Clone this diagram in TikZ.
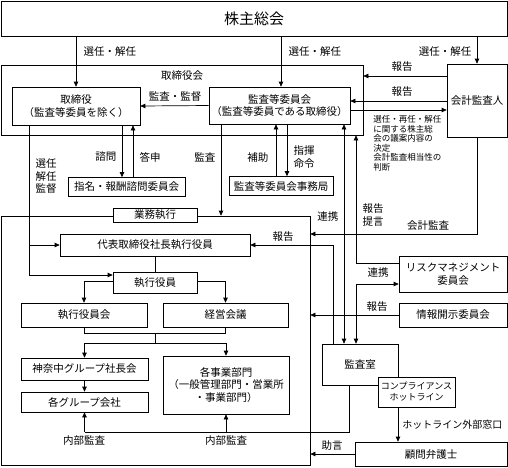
\documentclass[tikz,border=0pt]{standalone}
\usepackage{fontspec}
\setmainfont{Noto Sans CJK JP}
\usetikzlibrary{arrows.meta}

\begin{document}
\begin{tikzpicture}[x=1pt,y=-1pt,line width=0.7pt,
  font=\fontsize{10.5}{12.5}\selectfont,
  box/.style={draw,inner sep=0pt,align=center},
  wbox/.style={box,fill=white},
  arr/.style={-{Triangle[length=5pt,width=4.5pt]}},
  arrs/.style={{Triangle[length=5pt,width=4.5pt]}-{Triangle[length=5pt,width=4.5pt]}},
  note/.style={font=\fontsize{8.5}{9.6}\selectfont,align=left,inner sep=0pt}]
\useasboundingbox (0,0) rectangle (508,467);
		% frames
		\node[box,minimum width=362pt,minimum height=70pt] (board) at (182,100) {};
		\node (boardlbl) at (182,76) {取締役会};
		\node[box,minimum width=309pt,minimum height=249pt] (execframe) at (155.5,340.5) {};
		\node[wbox,minimum width=84pt,minimum height=14pt] (execlbl) at (155,215) {業務執行};
		% top
		\node[box,minimum width=506pt,minimum height=35pt,font=\fontsize{15}{17}\selectfont] (shareholders) at (254,18.5) {株主総会};
		\node[box,minimum width=128pt,minimum height=38pt] (directors) at (76,106) {取締役\\（監査等委員を除く）};
		\node[box,minimum width=141pt,minimum height=37pt] (acbm) at (279.5,105.5) {監査等委員会\\（監査等委員である取締役）};
		\node[box,minimum width=60pt,minimum height=73pt] (auditor) at (477,100.5) {会計監査人};
		\node[box,minimum width=117pt,minimum height=19pt] (nomination) at (126.5,187) {指名・報酬諮問委員会};
		\node[box,minimum width=104pt,minimum height=19pt] (office) at (281,186) {監査等委員会事務局};
		% execution side
		\node[box,minimum width=190pt,minimum height=22pt] (president) at (155,245) {代表取締役社長執行役員};
		\node[box,minimum width=84pt,minimum height=21pt] (officers) at (155,282.5) {執行役員};
		\node[box,minimum width=126pt,minimum height=24pt] (officersmtg) at (84,315) {執行役員会};
		\node[box,minimum width=125pt,minimum height=24pt] (mgmt) at (225.5,315) {経営会議};
		\node[box,minimum width=127pt,minimum height=22pt] (grouppres) at (84.5,369) {神奈中グループ社長会};
		\node[box,minimum width=127pt,minimum height=20pt] (groupco) at (84.5,402) {各グループ会社};
		\node[box,minimum width=126pt,minimum height=58pt] (divisions) at (226,385) {各事業部門\\（一般管理部門・営業所\\・事業部門）};
		% right side
		\node[box,minimum width=108pt,minimum height=36pt] (risk) at (453,274) {リスクマネジメント\\委員会};
		\node[box,minimum width=108pt,minimum height=24pt] (disclosure) at (453,315) {情報開示委員会};
		\node[box,minimum width=76pt,minimum height=41pt] (auditroom) at (360,364.5) {監査室};
		\node[wbox,minimum width=77pt,minimum height=30pt,font=\fontsize{9}{11}\selectfont] (hotline) at (416.5,392) {コンプライアンス\\ホットライン};
		\node[box,minimum width=152pt,minimum height=24pt] (lawyer) at (431,454) {顧問弁護士};
		% shareholders
		\draw[arr] (shareholders.south -| directors) -- (directors.north);
		\node[anchor=west] (l1) at (80,52) {選任・解任};
		\draw[arr] (shareholders.south -| 281,0) -- (acbm.north -| 281,0);
		\node[anchor=west] (l2) at (285,52) {選任・解任};
		\draw[arr] (shareholders.south -| auditor) -- (auditor.north);
		\node[anchor=east] (l3) at (475,52) {選任・解任};
		% board
		\draw[arr] (acbm.west) -- (directors.east);
		\node (l4) at (175,97) {監査・監督};
		\draw[arr] (auditor.west |- 0,76) -- (board.east |- 0,76);
		\node (l5) at (402,67) {報告};
		\draw[arr] (auditor.west |- 0,101) -- (acbm.east |- 0,101);
		\node (l6) at (402,92) {報告};
		\draw[arr] (acbm.east |- 0,110) -- (auditor.west |- 0,110);
		\node[note,anchor=north west] (l7) at (373,115) {選任・再任・解任\\に関する株主総\\会の議案内容の\\決定\\会計監査相当性の\\判断};
		\draw[arr] (directors.south -| 122,0) -- (nomination.north -| 122,0);
		\node[anchor=east] (l8) at (120,157) {諮問};
		\draw[arr] (nomination.north -| 133,0) -- (directors.south -| 133,0);
		\node[anchor=west] (l9) at (136,157) {答申};
		\draw[arr] (acbm.south -| 221,0) -- (execframe.north -| 221,0);
		\node[anchor=east] (l10) at (219,157) {監査};
		\draw[arr] (office.north -| 276,0) -- (acbm.south -| 276,0);
		\node[anchor=east] (l11) at (272,158) {補助};
		\draw[arr] (acbm.south -| 287,0) -- (office.north -| 287,0);
		\node[anchor=west,align=left] (l12) at (290,157) {指揮\\命令};
		% audit links
		\draw[arrs] (acbm.south -| 344,0) -- (auditroom.north -| 344,0);
		\node[anchor=east] (l13) at (342,217) {連携};
		\draw[arr] (risk.west |- 0,263) -| (board.south -| 356,0);
		\node[anchor=west,align=left] (l14) at (359,215) {報告\\提言};
		\draw[arrs] (auditroom.north -| 356,0) |- (risk.west |- 0,284);
		\node (l15) at (378,273) {連携};
		\draw[arr] (auditor.south) |- (execframe.east |- 0,234);
		\node (l16) at (428,226) {会計監査};
		\draw[arr] (auditroom.north -| 333,0) |- (president.east);
		\node (l17) at (283,237) {報告};
		\draw[arr] (disclosure.west) -- (execframe.east |- disclosure);
		\node (l18) at (377,307) {報告};
		\draw[arr] (lawyer.west) -- (execframe.east |- lawyer);
		\node (l19) at (332,446) {助言};
		\draw[arr] (hotline.south -| 398,0) -- (lawyer.north -| 398,0);
		\node[anchor=west,inner sep=1pt,font=\fontsize{10}{12}\selectfont] (l20) at (401,425) {ホットライン外部窓口};
		% execution
		\coordinate (split) at (29,245);
		\draw[arr] (directors.south -| split) |- (officers.west |- 0,275);
		\draw[arr] (split) -- (president.west);
		\node[anchor=north west,align=left] (l21) at (32,155) {選任\\解任\\監督};
		\draw (president) -- (officers);
		\draw[arr] (officers.west |- 0,281) -| (officersmtg.north);
		\draw[arr] (officers.east |- 0,281) -| (mgmt.north);
		\coordinate (join) at (155,333);
		\coordinate (fork) at (155,343);
		\draw (officersmtg.south) |- (join) -| (mgmt.south);
		\draw (join) -- (fork);
		\draw[arr] (fork) -| (grouppres.north);
		\draw[arr] (fork) -| (divisions.north);
		\draw[arr] (grouppres) -- (groupco);
		% internal audit
		\coordinate (ia) at (349,432);
		\draw (auditroom.south -| ia) -- (ia) -- (groupco.south |- ia);
		\draw[arr] (groupco.south |- ia) -- (groupco.south);
		\draw[arr] (divisions.south |- ia) -- (divisions.south);
		\node (l22) at (84,441) {内部監査};
		\node (l23) at (226,441) {内部監査};
\end{tikzpicture}
\end{document}
